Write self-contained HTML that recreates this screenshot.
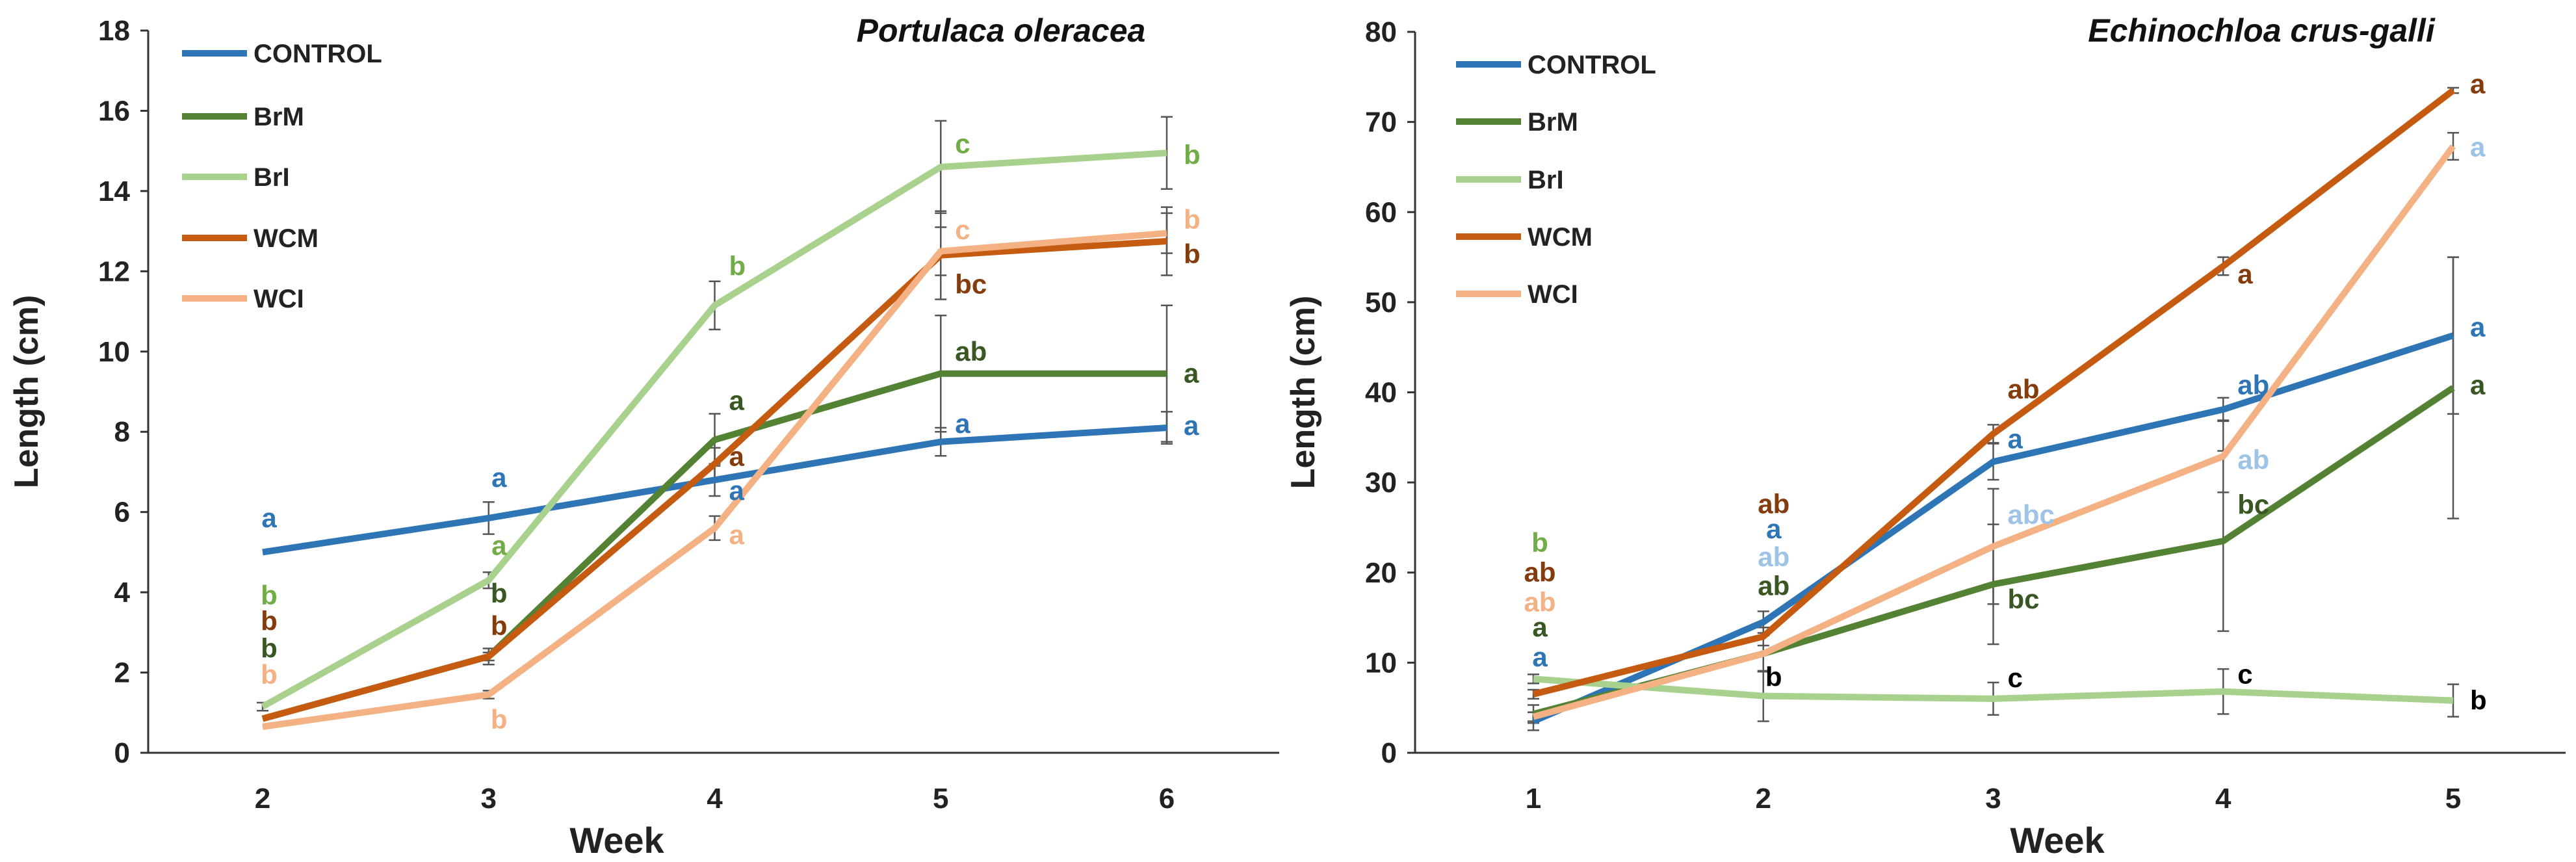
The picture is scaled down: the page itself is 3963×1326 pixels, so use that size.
<!DOCTYPE html>
<html><head><meta charset="utf-8"><style>
html,body{margin:0;padding:0;background:#fff;}
svg{display:block;font-family:"Liberation Sans",sans-serif;font-weight:bold;}
</style></head><body>
<svg id="c" width="3963" height="1326" viewBox="0 0 3963 1326"></svg>
<script>
const seriesNames=["CONTROL","BrM","BrI","WCM","WCI"];
const colors=["#2e75b6","#548235","#a9d18e","#c55a11","#f4b183"];
// Left panel: Portulaca oleracea
const weeksL=[2,3,4,5,6];
const yTicksL=[0,2,4,6,8,10,12,14,16,18];
const valsL_control=[5.0,5.85,6.8,7.75,8.1];
const valsL_brm=[0.85,2.4,7.8,9.45,9.45];
const valsL_bri=[1.15,4.3,11.15,14.6,14.95];
const valsL_wcm=[0.85,2.4,7.2,12.4,12.75];
const valsL_wci=[0.65,1.45,5.6,12.5,12.95];
const errL_control=[0,0.4,0.4,0.35,0.4];
const errL_brm=[0,0.1,0.65,1.45,1.7];
const errL_bri=[0.1,0.2,0.6,1.15,0.9];
const errL_wcm=[0,0.2,0.4,1.1,0.85];
const errL_wci=[0,0.1,0.3,0.6,0.5];
const lettersL=[[2,5.62,"a",0],[2,3.69,"b",2],[2,3.05,"b",3],[2,2.37,"b",1],[2,1.72,"b",4],
[3,6.63,"a",0],[3,4.93,"a",2],[3,3.74,"b",1],[3,2.93,"b",3],[3,0.6,"b",4],
[4,11.9,"b",2],[4,8.55,"a",1],[4,7.15,"a",3],[4,6.3,"a",0],[4,5.2,"a",4],
[5,14.95,"c",2],[5,12.8,"c",4],[5,11.45,"bc",3],[5,9.77,"ab",1],[5,7.97,"a",0],
[6,14.67,"b",2],[6,13.06,"b",4],[6,12.2,"b",3],[6,9.23,"a",1],[6,7.92,"a",0]];
const centeredL=[2,3];
// Right panel: Echinochloa crus-galli
const weeksR=[1,2,3,4,5];
const yTicksR=[0,10,20,30,40,50,60,70,80];
const valsR_control=[3.5,14.5,32.3,38.1,46.3];
const valsR_brm=[4.3,11,18.7,23.5,40.5];
const valsR_bri=[8.2,6.3,6.0,6.8,5.8];
const valsR_wcm=[6.5,12.9,35.4,54,73.5];
const valsR_wci=[4.0,11,22.9,32.9,67.3];
const errR_control=[1,1.2,2,1.3,8.7];
const errR_brm=[1,2,6.65,10,14.5];
const errR_bri=[0.5,2.8,1.8,2.5,1.8];
const errR_wcm=[0.5,1,1,1,0.3];
const errR_wci=[0.5,2,6.4,4,1.5];
const lettersR=[[1,22.3,"b",2,"#70ad47"],[1,19,"ab",3,"#843c0c"],[1,15.7,"ab",4,"#f4b183"],[1,12.9,"a",1,"#385723"],[1,9.6,"a",0,"#2e75b6"],
[2,26.6,"ab",3,"#843c0c"],[2,23.8,"a",0,"#2e75b6"],[2,20.7,"ab",4,"#9dc3e6"],[2,17.5,"ab",1,"#385723"],[2,7.4,"b",2,"#000"],
[3,39.3,"ab",3,"#843c0c"],[3,33.8,"a",0,"#2e75b6"],[3,25.4,"abc",4,"#9dc3e6"],[3,16,"bc",1,"#385723"],[3,7.3,"c",2,"#000"],
[4,52.1,"a",3,"#843c0c"],[4,39.8,"ab",0,"#2e75b6"],[4,31.5,"ab",4,"#9dc3e6"],[4,26.5,"bc",1,"#385723"],[4,7.7,"c",2,"#000"],
[5,73.2,"a",3,"#843c0c"],[5,66.2,"a",4,"#9dc3e6"],[5,46.2,"a",0,"#2e75b6"],[5,39.8,"a",1,"#385723"],[5,4.8,"b",2,"#000"]];
const centeredR=[1,2];
const letterColL=["#2e75b6","#385723","#70ad47","#843c0c","#f4b183"];

const svg=document.getElementById('c');
const NS="http://www.w3.org/2000/svg";
function mk(tag,attrs,parent){const e=document.createElementNS(NS,tag);for(const k in attrs)e.setAttribute(k,attrs[k]);(parent||svg).appendChild(e);return e;}

function panel(cfg){
  const g=mk('g',{});
  
  
  const x=w=>cfg.x0+(w-cfg.weeks[0])*(cfg.x1-cfg.x0)/(cfg.weeks[cfg.weeks.length-1]-cfg.weeks[0]);
  const y=v=>cfg.yb-(v/cfg.ymax)*(cfg.yb-cfg.yt);
  const ax=mk('path',{d:`M${cfg.ax} ${cfg.yt} V${cfg.yb} H${cfg.axEnd}`,stroke:'#333',fill:'none','stroke-width':3},g);
  
  cfg.yTicks.forEach(t=>{
    mk('line',{x1:cfg.ax-12,x2:cfg.ax,y1:y(t),y2:y(t),stroke:'#333','stroke-width':3},g);
    const tx=mk('text',{x:cfg.ax-28,y:y(t)+15,'text-anchor':'end','font-size':44,fill:'#222'},g);
    tx.textContent=t;
    
  });
  cfg.weeks.forEach(w=>{
    const tx=mk('text',{x:x(w),y:1243,'text-anchor':'middle','font-size':44,fill:'#222'},g);
    tx.textContent=w;
    
  });
  const xt=mk('text',{x:cfg.weekX,y:1312,'text-anchor':'middle','font-size':56,fill:'#222'},g);
  xt.textContent='Week';
  const yt=mk('text',{x:0,y:0,'text-anchor':'middle','font-size':52,fill:'#222',transform:`translate(${cfg.ylabX},${(cfg.yt+cfg.yb)/2}) rotate(-90)`},g);
  yt.textContent='Length (cm)';
  const tt=mk('text',{x:cfg.titleX,y:64,'text-anchor':'middle','font-size':50,'font-style':'italic',fill:'#111'},g);
  tt.textContent=cfg.title;
  cfg.vals.forEach((vs,i)=>{
    vs.forEach((v,j)=>{
      const e=cfg.errs[i][j]; if(!e) return;
      const xx=x(cfg.weeks[j]);
      const eb=mk('path',{d:`M${xx} ${y(v-e)} V${y(v+e)} M${xx-9} ${y(v-e)} H${xx+9} M${xx-9} ${y(v+e)} H${xx+9}`,stroke:'#555','stroke-width':2.5,fill:'none'},g);
      
    });
  });
  cfg.vals.forEach((vs,i)=>{
    const pl=mk('polyline',{points:vs.map((v,j)=>x(cfg.weeks[j])+','+y(v)).join(' '),fill:'none',stroke:colors[i],'stroke-width':10,'stroke-linejoin':'round'},g);
    
    
  });
  const last=cfg.weeks[cfg.weeks.length-1];
  cfg.letters.forEach(L=>{
    const cen=cfg.centered.includes(L[0]);
    const dx=cen?(L[0]===cfg.weeks[0]?10:16):(L[0]===last?26:22);
    const tx=mk('text',{x:x(L[0])+dx,y:y(L[1]),'text-anchor':cen?'middle':'start','font-size':42,fill:L[4]||cfg.letterCols[L[3]]},g);
    tx.textContent=L[2];
    
    
  });
  seriesNames.forEach((n,i)=>{
    const yy=cfg.legY[i];
    const ln=mk('line',{x1:cfg.legX,x2:cfg.legX+100,y1:yy,y2:yy,stroke:colors[i],'stroke-width':10},g);
    
    const tx=mk('text',{x:cfg.legX+110,y:yy+14,'font-size':40,fill:'#222'},g);
    tx.textContent=n;
    
  });
}
panel({name:'panel-portulaca',weeks:weeksL,yTicks:yTicksL,ymax:18,x0:404,x1:1795,yb:1158,yt:47,ax:228,axEnd:1968,
 vals:[valsL_control,valsL_brm,valsL_bri,valsL_wcm,valsL_wci],errs:[errL_control,errL_brm,errL_bri,errL_wcm,errL_wci],
 letters:lettersL,centered:centeredL,letterCols:letterColL,legX:280,legY:[82,179,272,366,459],title:'Portulaca oleracea',titleX:1540,weekX:949,ylabX:58});
panel({name:'panel-echinochloa',weeks:weeksR,yTicks:yTicksR,ymax:80,x0:2359,x1:3774,yb:1158,yt:49,ax:2177,axEnd:3947,
 vals:[valsR_control,valsR_brm,valsR_bri,valsR_wcm,valsR_wci],errs:[errR_control,errR_brm,errR_bri,errR_wcm,errR_wci],
 letters:lettersR,centered:centeredR,letterCols:letterColL,legX:2240,legY:[99,187,276,364,452],title:'Echinochloa crus-galli',titleX:3479,weekX:3165,ylabX:2022});
</script>
</body></html>
